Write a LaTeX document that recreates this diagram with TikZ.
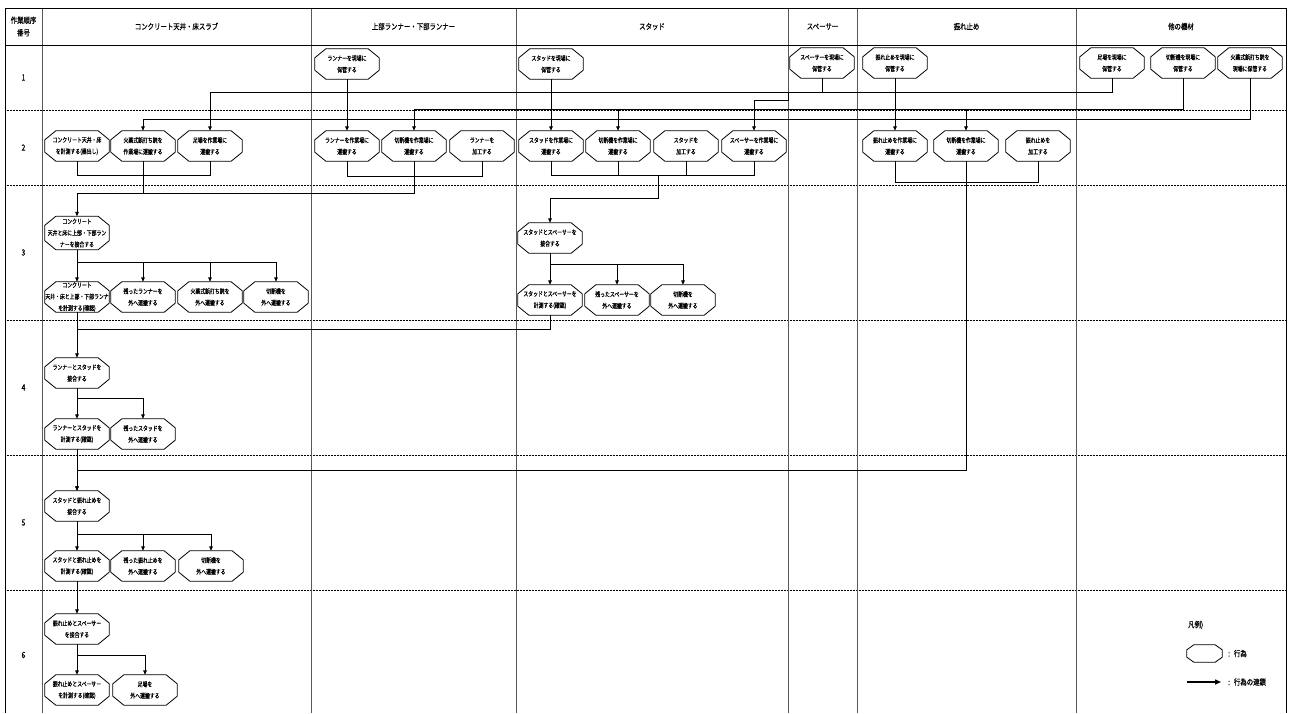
\documentclass[tikz,border=0pt]{standalone}
\usepackage{fontspec}
\newfontfamily\jpfont[FakeStretch=0.75,FakeBold=0.5]{Noto Sans CJK JP}
\newfontfamily\jphead[FakeStretch=0.8,FakeBold=0.5]{Noto Sans CJK JP}
\usetikzlibrary{arrows.meta,calc}

% octagonal outline around a node: #1 node, #2 horizontal inset, #3 vertical inset
\newcommand\octframe[3]{%
  \draw[octline]
    ($(#1.north west)+(#2,0pt)$) -- ($(#1.north east)+(-#2,0pt)$)
    -- ($(#1.north east)+(0pt,-#3)$) -- ($(#1.south east)+(0pt,#3)$)
    -- ($(#1.south east)+(-#2,0pt)$) -- ($(#1.south west)+(#2,0pt)$)
    -- ($(#1.south west)+(0pt,#3)$) -- ($(#1.north west)+(0pt,-#3)$) -- cycle;}

\begin{document}
\begin{tikzpicture}[x=1pt,y=-1pt,
  octline/.style={line width=0.8pt,black},
  act/.style={minimum width=64pt, minimum height=30pt, inner sep=0pt, align=center,
    font=\jpfont\fontsize{6.5}{11.5}\selectfont,
    append after command={\pgfextra{\octframe{\tikzlastnode}{11pt}{9pt}}}},
  tallact/.style={act, minimum height=33pt},
  legendact/.style={minimum width=35pt, minimum height=17pt, inner sep=0pt,
    append after command={\pgfextra{\octframe{\tikzlastnode}{7pt}{5pt}}}},
  head/.style={font=\jphead\fontsize{8}{12.5}\selectfont, align=center, inner sep=0pt},
  rownum/.style={font=\jphead\fontsize{8.5}{10}\selectfont, inner sep=0pt},
  legendtext/.style={font=\jphead\fontsize{8}{10}\selectfont, inner sep=0pt, anchor=west},
  frame/.style={line width=0.8pt, black},
  lane/.style={line width=0.7pt, black!65},
  rowsep/.style={line width=0.8pt, black, dash pattern=on 0.8pt off 0.7pt},
  wire/.style={line width=0.9pt, black},
  flow/.style={wire, -{Triangle[length=4.5pt,width=3.6pt]}},
]
\useasboundingbox (0,0) rectangle (1289,713);

% ---------- table grid ----------
\foreach \y in {110,185,320,455,590} \draw[rowsep] (5,\y) -- (1286,\y);
\foreach \x in {42,311,516,788,857,1076} \draw[lane] (\x,8) -- (\x,713);
\draw[frame] (5,713) -- (5,8) -- (1286,8) -- (1286,713);
\draw[frame] (5,45) -- (1286,45);

% ---------- header ----------
\node[head] (hNo)  at (23.5,26.5)  {作業順序\\番号};
\node[head] (hCon) at (176.5,26.5) {コンクリート天井・床スラブ};
\node[head] (hRun) at (413.5,26.5) {上部ランナー・下部ランナー};
\node[head] (hStd) at (652,26.5)   {スタッド};
\node[head] (hSpc) at (822.5,26.5) {スペーサー};
\node[head] (hBrc) at (966.5,26.5) {振れ止め};
\node[head] (hOth) at (1181,26.5)  {他の機材};

% ---------- step numbers ----------
\node[rownum] (n1) at (23.5,77.5)  {1};
\node[rownum] (n2) at (23.5,147.5) {2};
\node[rownum] (n3) at (23.5,252.5) {3};
\node[rownum] (n4) at (23.5,387.5) {4};
\node[rownum] (n5) at (23.5,522.5) {5};
\node[rownum] (n6) at (23.5,655)   {6};

% ---------- step 1 ----------
\node[act] (r1a) at (347,64)  {ランナーを現場に\\保管する};
\node[act] (r1b) at (551,64)  {スタッドを現場に\\保管する};
\node[act] (r1c) at (822,63)  {スペーサーを現場に\\保管する};
\node[act] (r1d) at (895,63)  {振れ止めを現場に\\保管する};
\node[act] (r1e) at (1112,63) {足場を現場に\\保管する};
\node[act] (r1f) at (1183,63) {切断機を現場に\\保管する};
\node[act] (r1g) at (1250,63) {火薬式鋲打ち銃を\\現場に保管する};

% ---------- step 2 ----------
\node[act] (r2a) at (77,146)   {コンクリート天井・床\\を計測する(墨出し)};
\node[act] (r2b) at (143,146)  {火薬式鋲打ち銃を\\作業場に運搬する};
\node[act] (r2c) at (210,146)  {足場を作業場に\\運搬する};
\node[act] (r2d) at (347,146)  {ランナーを作業場に\\運搬する};
\node[act] (r2e) at (414,146)  {切断機を作業場に\\運搬する};
\node[act] (r2f) at (482,146)  {ランナーを\\加工する};
\node[act] (r2g) at (551,146)  {スタッドを作業場に\\運搬する};
\node[act] (r2h) at (618,146)  {切断機を作業場に\\運搬する};
\node[act] (r2i) at (686,146)  {スタッドを\\加工する};
\node[act] (r2j) at (754,146)  {スペーサーを作業場に\\運搬する};
\node[act] (r2k) at (895,146)  {振れ止めを作業場に\\運搬する};
\node[act] (r2m) at (966,146)  {切断機を作業場に\\運搬する};
\node[act] (r2n) at (1038,146) {振れ止めを\\加工する};

% ---------- step 3 ----------
\node[tallact] (r3a) at (77,233)  {コンクリート\\天井と床に上部・下部ラン\\ナーを接合する};
\node[act] (r3b) at (77,297)  {コンクリート\\天井・床と上部・下部ランナ\\を計測する(確認)};
\node[act] (r3d) at (143,297) {残ったランナーを\\外へ運搬する};
\node[act] (r3e) at (210,297) {火薬式鋲打ち銃を\\外へ運搬する};
\node[act] (r3f) at (276,297) {切断機を\\外へ運搬する};
\node[act] (r3c) at (550,238) {スタッドとスペーサーを\\接合する};
\node[act] (r3g) at (550,300) {スタッドとスペーサーを\\計測する(確認)};
\node[act] (r3h) at (617,300) {残ったスペーサーを\\外へ運搬する};
\node[act] (r3i) at (683,300) {切断機を\\外へ運搬する};

% ---------- step 4 ----------
\node[act] (r4a) at (77,373)  {ランナーとスタッドを\\接合する};
\node[act] (r4b) at (77,434)  {ランナーとスタッドを\\計測する(確認)};
\node[act] (r4c) at (143,434) {残ったスタッドを\\外へ運搬する};

% ---------- step 5 ----------
\node[act] (r5a) at (77,506)  {スタッドと振れ止めを\\接合する};
\node[act] (r5b) at (77,566)  {スタッドと振れ止めを\\計測する(確認)};
\node[act] (r5c) at (143,566) {残った振れ止めを\\外へ運搬する};
\node[act] (r5d) at (211,566) {切断機を\\外へ運搬する};

% ---------- step 6 ----------
\node[act] (r6a) at (77,629)  {振れ止めとスペーサー\\を接合する};
\node[act] (r6b) at (77,690)  {振れ止めとスペーサー\\を計測する(確認)};
\node[act] (r6c) at (145,690) {足場を\\外へ運搬する};

% ---------- bus levels ----------
\coordinate (busScaffold) at (0,92);
\coordinate (busSpacer)   at (0,100);
\coordinate (busCutter)   at (0,109);
\coordinate (busGun)      at (0,119);
\coordinate (bus2a) at (0,175);
\coordinate (bus2b) at (0,176);
\coordinate (bus2c) at (0,182);
\coordinate (bus2d) at (0,193);
\coordinate (bus2e) at (0,198);
\coordinate (bus3a) at (0,262);
\coordinate (bus3b) at (0,264);
\coordinate (bus3c) at (0,329);
\coordinate (bus4a) at (0,398);
\coordinate (bus4b) at (0,470);
\coordinate (bus5a) at (0,534);
\coordinate (bus6a) at (0,655);
\coordinate (spcStep) at (788,92);
\coordinate (studJoin) at (658,175);

% ---------- step 1 -> step 2 ----------
\draw[flow] (r1a.south) -- (r2d.north);
\draw[flow] (r1b.south) -- (r2g.north);
\draw[flow] (r1d.south) -- (r2k.north);
\draw[flow] (r1e.south) -- (r1e.south |- busScaffold) -| (r2c.north);
\draw[flow] (r1c.south) -- (r1c.south |- busScaffold) -- (spcStep) |- (r2j.north |- busSpacer) -- (r2j.north);
\draw[flow] (r1f.south) -- (r1f.south |- busCutter) -| (r2e.north);
\draw[flow] (r2h.north |- busCutter) -- (r2h.north);
\draw[flow] (r2m.north |- busCutter) -- (r2m.north);
\draw[flow] (r1g.south) -- (r1g.south |- busGun) -| (r2b.north);

% ---------- step 2 -> step 3 ----------
\draw[wire] (r2a.south) -- (r2a.south |- bus2a) -| (r2c.south);
\draw[wire] (r2d.south) -- (r2d.south |- bus2b) -| (r2f.south);
\draw[wire] (r2e.south) -- (r2e.south |- bus2d) -- (r2b.south |- bus2d);
\draw[flow] (r2b.south) -- (r2b.south |- bus2d) -| (r3a.north);
\draw[wire] (r2g.south) -- (r2g.south |- bus2a) -| (r2j.south);
\draw[wire] (r2h.south) -- (r2h.south |- bus2a);
\draw[wire] (r2i.south) -- (r2i.south |- bus2a);
\draw[flow] (studJoin) -- (studJoin |- bus2e) -| (r3c.north);
\draw[wire] (r2k.south) -- (r2k.south |- bus2c) -| (r2n.south);

% ---------- step 3 ----------
\draw[flow] (r3a.south) -- (r3b.north);
\draw[flow] (r3a.south) -- (r3a.south |- bus3a) -| (r3f.north);
\draw[flow] (r3d.north |- bus3a) -- (r3d.north);
\draw[flow] (r3e.north |- bus3a) -- (r3e.north);
\draw[flow] (r3c.south) -- (r3g.north);
\draw[flow] (r3c.south) -- (r3c.south |- bus3b) -| (r3i.north);
\draw[flow] (r3h.north |- bus3b) -- (r3h.north);

% ---------- step 3 -> step 4 ----------
\draw[flow] (r3b.south) -- (r4a.north);
\draw[wire] (r3g.south) -- (r3g.south |- bus3c) -- (r3b.south |- bus3c);

% ---------- step 4 ----------
\draw[flow] (r4a.south) -- (r4b.north);
\draw[flow] (r4a.south) -- (r4a.south |- bus4a) -| (r4c.north);

% ---------- step 4 -> step 5 ----------
\draw[flow] (r4b.south) -- (r5a.north);
\draw[flow] (r2m.south) -- (r2m.south |- bus4b) -| (r5a.north);

% ---------- step 5 ----------
\draw[flow] (r5a.south) -- (r5b.north);
\draw[flow] (r5a.south) -- (r5a.south |- bus5a) -| (r5d.north);
\draw[flow] (r5c.north |- bus5a) -- (r5c.north);

% ---------- step 5 -> step 6 ----------
\draw[flow] (r5b.south) -- (r6a.north);
\draw[flow] (r6a.south) -- (r6b.north);
\draw[flow] (r6a.south) -- (r6a.south |- bus6a) -| (r6c.north);

% ---------- legend ----------
\node[legendtext] (lgTitle) at (1188,625) {凡例)};
\node[legendact] (lgOct) at (1204.5,653.5) {};
\node[legendtext] (lgOctTxt) at (1228,653.5) {:\hspace{4pt}行為};
\coordinate (lgA) at (1187,682);
\coordinate (lgB) at (1221,682);
\draw[wire, line width=1.4pt, -{Triangle[length=6pt,width=5pt]}] (lgA) -- (lgB);
\node[legendtext] (lgArrTxt) at (1228,682) {:\hspace{4pt}行為の連鎖};
\end{tikzpicture}
\end{document}
